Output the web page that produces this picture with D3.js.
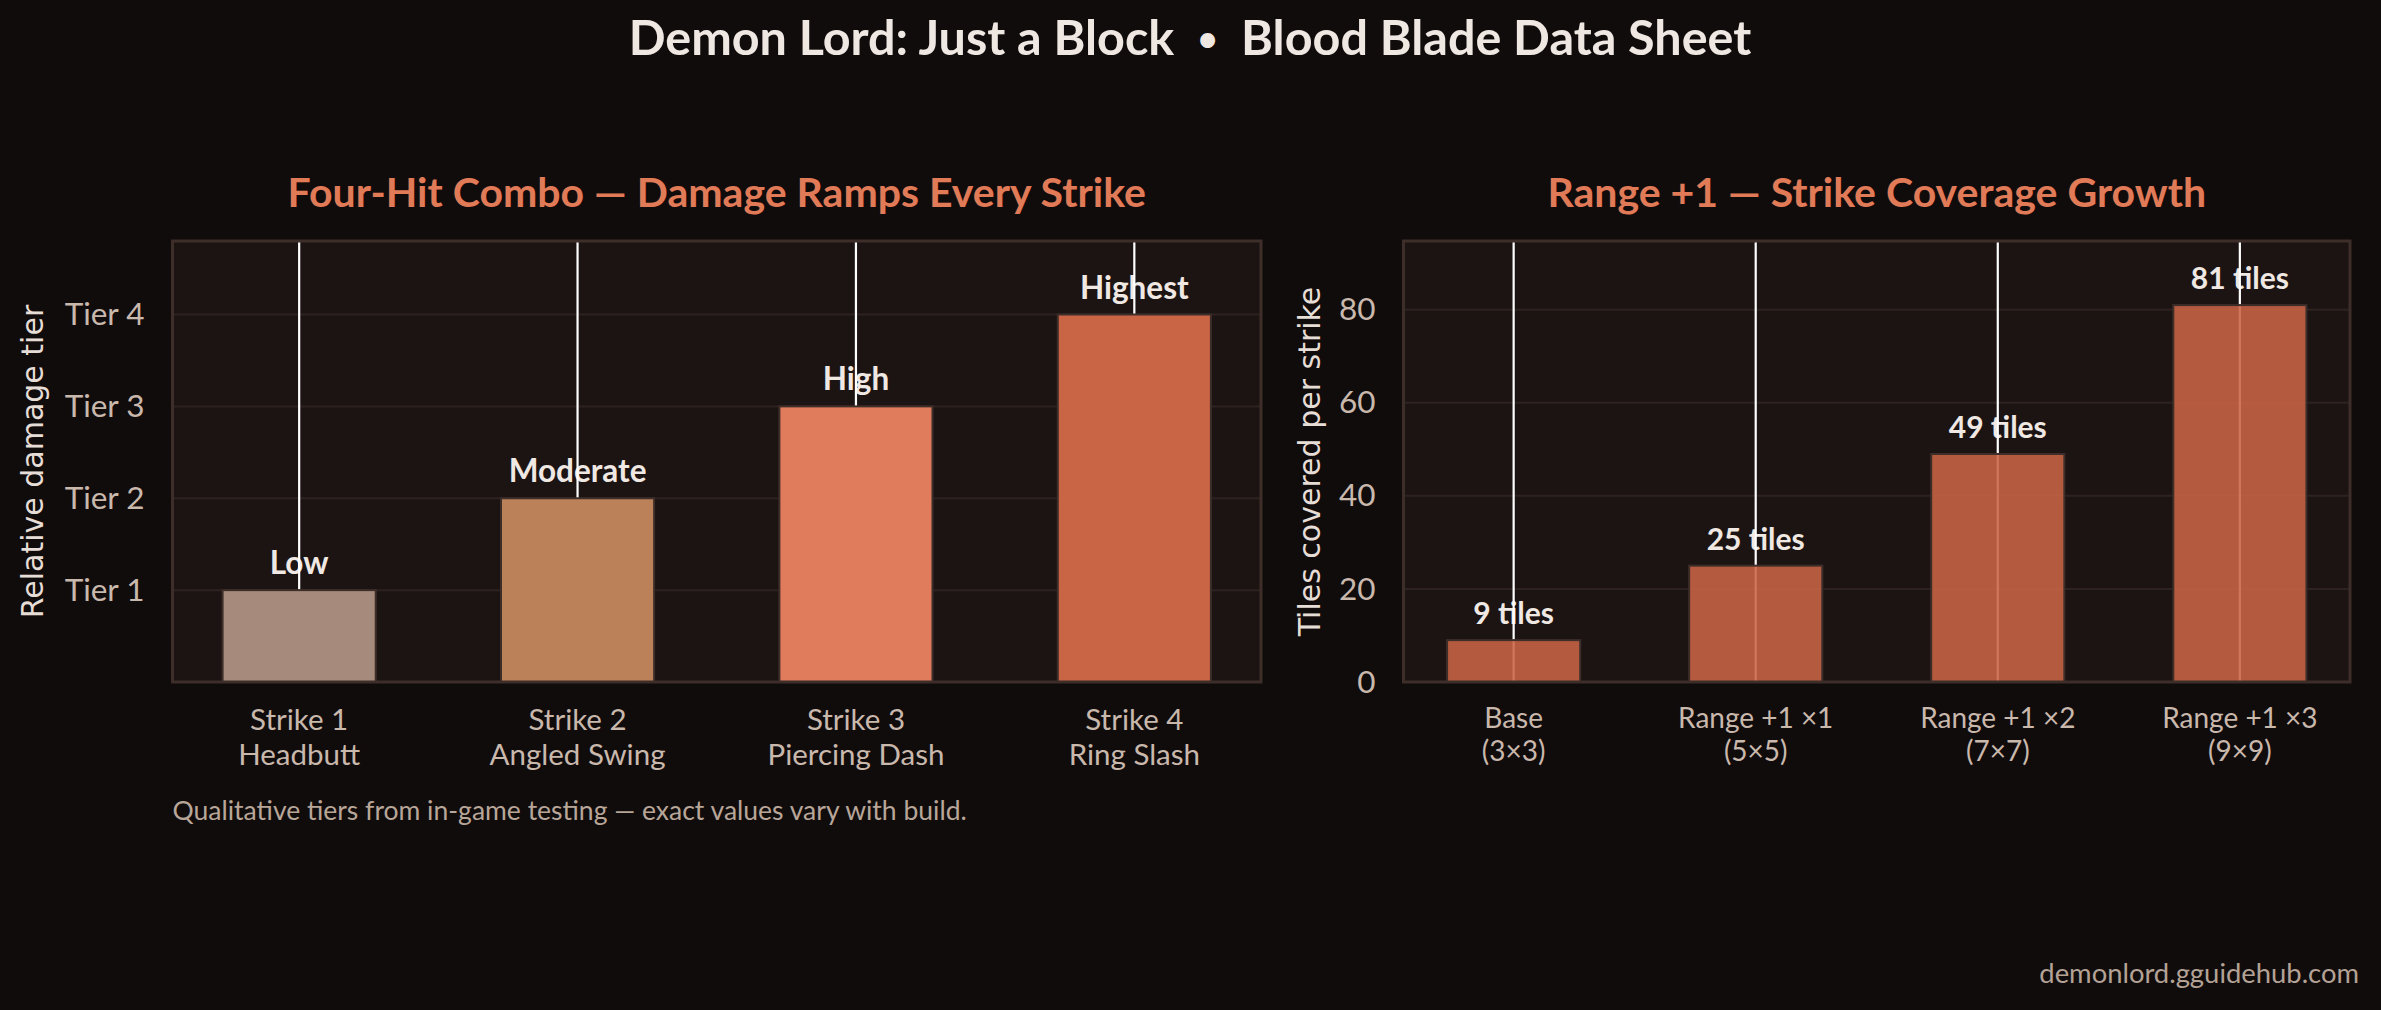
<!DOCTYPE html>
<html>
<head>
<meta charset="utf-8">
<script src="https://cdn.jsdelivr.net/npm/d3@7"></script>
<style>
  html, body { margin: 0; padding: 0; background: #110c0c; }
  svg { display: block; }
  text { font-family: Lato, "Noto Sans", sans-serif; }
</style>
</head>
<body>
<svg id="chart" width="2381" height="1010"></svg>
<script>
// datos del panel izquierdo: combo de cuatro golpes
const strikes = ["Strike 1", "Strike 2", "Strike 3", "Strike 4"];
const moves = ["Headbutt", "Angled Swing", "Piercing Dash", "Ring Slash"];
const tierValues = [1, 2, 3, 4];
const tierLabels = ["Low", "Moderate", "High", "Highest"];
const tierTicks = [1, 2, 3, 4];
const tierTickLabels = ["Tier 1", "Tier 2", "Tier 3", "Tier 4"];

// datos del panel derecho: cobertura por rango
const rangeSteps = ["Base", "Range +1 \u00d71", "Range +1 \u00d72", "Range +1 \u00d73"];
const rangeGrids = ["(3\u00d73)", "(5\u00d75)", "(7\u00d77)", "(9\u00d79)"];
const tiles = [9, 25, 49, 81];
const tileTicks = [0, 20, 40, 60, 80];

const strikeColors = ["#a68b7c", "#bb8159", "#e07b5c", "#c96444"];
const rangeColor = "#c96444";

const svg = d3.select("#chart");

const C = {
  plotBg: "#1c1413",
  frame: "#3d2e2a",
  grid: "#2d2220",
  tick: "#c9b8ac",
  axisLabel: "#e6ddd6",
  label: "#f0e8e3",
  accent: "#e07a57"
};

const plotTop = 241, plotBottom = 682;

// titulo general
const title = svg.append("text")
  .attr("x", 1190).attr("y", 55)
  .attr("text-anchor", "middle")
  .style("white-space", "pre")
  .style("font-size", "48.5px").style("font-weight", 700)
  .attr("fill", "#efe7e2");
title.append("tspan").text("Demon Lord: Just a Block  ");
title.append("tspan").style("font-size", "34px").attr("dy", -4).text("\u2022");
title.append("tspan").attr("dy", 4).text("  Blood Blade Data Sheet");

function panel(opts) {
  const g = svg.append("g");
  const x = d3.scaleBand()
    .domain(opts.cats)
    .range([opts.left, opts.right])
    .paddingInner(0.45)
    .paddingOuter(0.18);
  const y = d3.scaleLinear()
    .domain([0, d3.max(opts.values) * opts.headroom])
    .range([plotBottom, plotTop]);

  g.append("rect")
    .attr("x", opts.left).attr("y", plotTop)
    .attr("width", opts.right - opts.left).attr("height", plotBottom - plotTop)
    .attr("fill", C.plotBg);

  // rejilla horizontal
  g.append("g")
    .selectAll("line")
    .data(opts.ticks)
    .join("line")
    .attr("x1", opts.left).attr("x2", opts.right)
    .attr("y1", d => y(d)).attr("y2", d => y(d))
    .attr("stroke", C.grid).attr("stroke-width", 2);

  // eje y
  const yAxis = g.append("g")
    .attr("transform", `translate(${opts.left},0)`)
    .call(d3.axisLeft(y).tickValues(opts.ticks).tickSize(0).tickPadding(28)
      .tickFormat((d, i) => opts.tickLabels ? opts.tickLabels[i] : d));
  yAxis.select(".domain").remove();
  yAxis.selectAll("text")
    .attr("fill", C.tick)
    .style("font-size", "31.5px");

  // eje x con dos lineas por etiqueta
  const xAxis = g.append("g")
    .attr("transform", `translate(0,${plotBottom})`)
    .call(d3.axisBottom(x).tickSize(0).tickFormat(""));
  xAxis.select(".domain").remove();
  xAxis.selectAll(".tick").each(function (d, i) {
    const t = d3.select(this).append("text")
      .attr("text-anchor", "middle")
      .attr("fill", C.tick)
      .style("font-size", opts.xFont + "px");
    t.append("tspan").attr("x", 0).attr("y", opts.xLine1).text(d);
    t.append("tspan").attr("x", 0).attr("y", opts.xLine2).text(opts.sub[i]);
  });

  // etiquetas sobre las barras
  g.append("g")
    .selectAll("text")
    .data(opts.values)
    .join("text")
    .attr("x", (d, i) => x(opts.cats[i]) + x.bandwidth() / 2)
    .attr("y", d => y(d) - 16)
    .attr("text-anchor", "middle")
    .attr("fill", C.label)
    .style("font-size", opts.labelFont + "px").style("font-weight", 700)
    .text((d, i) => opts.labels[i]);

  // lineas verticales blancas
  g.append("g")
    .selectAll("line")
    .data(opts.cats)
    .join("line")
    .attr("x1", d => x(d) + x.bandwidth() / 2)
    .attr("x2", d => x(d) + x.bandwidth() / 2)
    .attr("y1", plotTop).attr("y2", plotBottom)
    .attr("stroke", "#ffffff").attr("stroke-width", 2.2);

  // barras
  g.append("g")
    .selectAll("rect")
    .data(opts.values)
    .join("rect")
    .attr("x", (d, i) => x(opts.cats[i]))
    .attr("y", d => y(d))
    .attr("width", x.bandwidth())
    .attr("height", d => plotBottom - y(d))
    .attr("fill", (d, i) => opts.colors[i])
    .attr("fill-opacity", opts.barOpacity)
    .attr("stroke", C.frame).attr("stroke-width", 2);

  // marco
  g.append("rect")
    .attr("x", opts.left).attr("y", plotTop)
    .attr("width", opts.right - opts.left).attr("height", plotBottom - plotTop)
    .attr("fill", "none")
    .attr("stroke", C.frame).attr("stroke-width", 3);

  // titulo del panel
  g.append("text")
    .attr("x", (opts.left + opts.right) / 2).attr("y", 207)
    .attr("text-anchor", "middle")
    .attr("fill", C.accent)
    .style("font-size", "41px").style("font-weight", 700)
    .text(opts.title);

  // titulo del eje y
  g.append("text")
    .attr("transform", `translate(${opts.yLabelX},${(plotTop + plotBottom) / 2}) rotate(-90)`)
    .attr("text-anchor", "middle")
    .attr("fill", C.axisLabel)
    .style("font-family", "'DejaVu Sans', sans-serif")
    .style("font-size", "30px")
    .text(opts.yLabel);
}

panel({
  left: 172.5, right: 1261,
  cats: strikes, sub: moves, values: tierValues, labels: tierLabels,
  ticks: tierTicks, tickLabels: tierTickLabels, headroom: 1.2,
  colors: strikeColors, barOpacity: 1,
  xFont: 29.5, xLine1: 48, xLine2: 83, labelFont: 31.5,
  title: "Four-Hit Combo \u2014 Damage Ramps Every Strike",
  yLabel: "Relative damage tier", yLabelX: 43
});

panel({
  left: 1403.5, right: 2350,
  cats: rangeSteps, sub: rangeGrids, values: tiles,
  labels: tiles.map(d => d + " tiles"),
  ticks: tileTicks, tickLabels: null, headroom: 1.17,
  colors: tiles.map(() => rangeColor), barOpacity: 0.88,
  xFont: 28, xLine1: 46, xLine2: 79, labelFont: 30,
  title: "Range +1 \u2014 Strike Coverage Growth",
  yLabel: "Tiles covered per strike", yLabelX: 1320
});

// nota al pie
svg.append("text")
  .attr("x", 172.5).attr("y", 820)
  .attr("fill", "#b8a699")
  .style("font-size", "26.5px")
  .text("Qualitative tiers from in-game testing \u2014 exact values vary with build.");

svg.append("text")
  .attr("x", 2359).attr("y", 983)
  .attr("text-anchor", "end")
  .attr("fill", "#b3a295")
  .style("font-size", "27.4px")
  .text("demonlord.gguidehub.com");
</script>
</body>
</html>
